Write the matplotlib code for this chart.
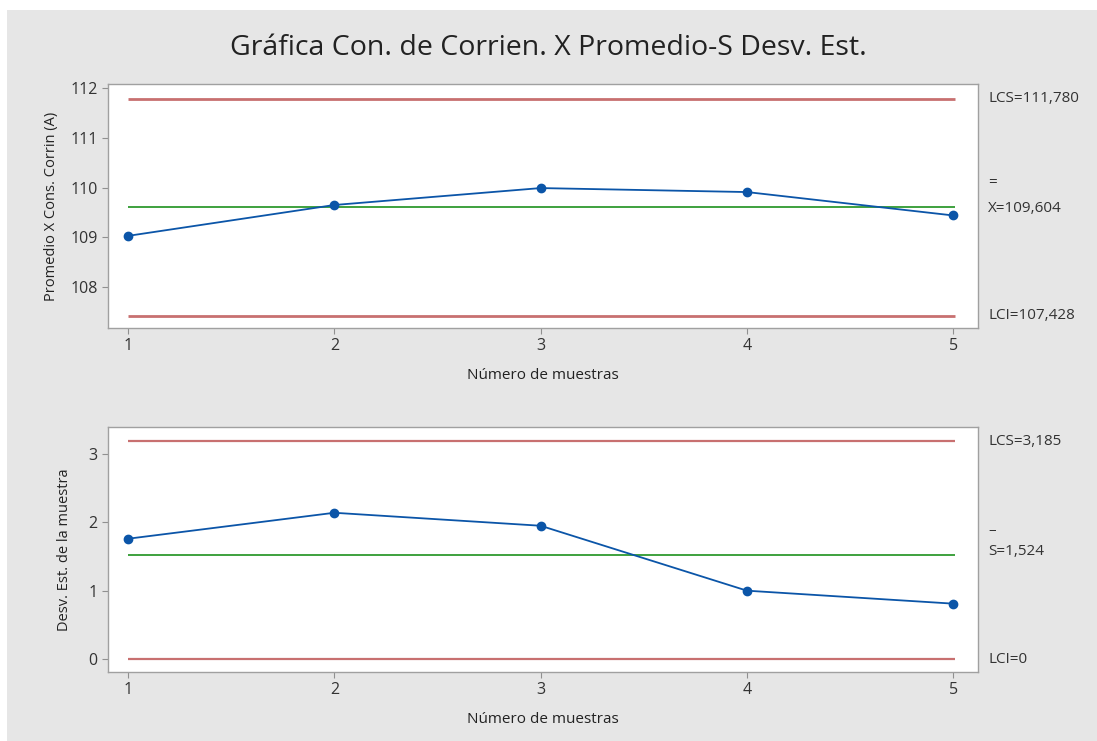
import matplotlib
matplotlib.use("Agg")
import matplotlib.pyplot as plt
from matplotlib.patches import Rectangle

plt.rcParams['font.family'] = ['Open Sans', 'DejaVu Sans']

samples = [1, 2, 3, 4, 5]
xbar = [109.03, 109.65, 109.99, 109.91, 109.44]
sdev = [1.76, 2.14, 1.95, 1.00, 0.81]
xbar_lcs, xbar_center, xbar_lci = 111.780, 109.604, 107.428
s_lcs, s_center, s_lci = 3.185, 1.524, 0.0
title = "Gráfica Con. de Corrien. X Promedio-S Desv. Est."
xlabel = "Número de muestras"
ylabel_top = "Promedio X Cons. Corrin (A)"
ylabel_bot = "Desv. Est. de la muestra"

W, H = 1097, 741
fig = plt.figure(figsize=(W/100, H/100), dpi=100)
fig.patch.set_facecolor('white')
fig.add_artist(Rectangle((7/W, 0), 1 - 7/W, 1 - 10/H, transform=fig.transFigure,
                         facecolor='#e6e6e6', edgecolor='none', zorder=-10))

red = '#c87070'
green = '#2f9a2f'
blue = '#0b55a8'

def ax_at(l, t, r, b):
    return fig.add_axes([l/W, 1 - b/H, (r - l)/W, (b - t)/H])

ax1 = ax_at(108, 84, 978, 328)
ax2 = ax_at(108, 427, 978, 672)

for ax in (ax1, ax2):
    ax.set_facecolor('white')
    for s in ax.spines.values():
        s.set_color('#a0a0a0')
        s.set_linewidth(1.0)
    ax.tick_params(colors='#333333', labelsize=11.5, length=4, width=0.8, color='#909090')
    ax.set_xlim(0.903, 5.12)
    ax.set_xticks(samples)
    ax.set_xlabel(xlabel, fontsize=11, color='#222222', labelpad=10)

# Top chart
ax1.hlines([xbar_lcs, xbar_lci], 1, 5.01, color=red, lw=2.0)
ax1.hlines(xbar_center, 1, 5.01, color=green, lw=1.3)
ax1.plot(samples, xbar, color=blue, lw=1.3, marker='o', ms=6, zorder=5)
ax1.set_ylim(107.18, 112.08)
ax1.set_yticks([108, 109, 110, 111, 112])
ax1.set_ylabel(ylabel_top, fontsize=10.5, color='#222222', labelpad=8)

# Bottom chart
ax2.hlines([s_lcs, s_lci], 1, 5.01, color=red, lw=1.6)
ax2.hlines(s_center, 1, 5.01, color=green, lw=1.3)
ax2.plot(samples, sdev, color=blue, lw=1.3, marker='o', ms=6, zorder=5)
ax2.set_ylim(-0.19, 3.395)
ax2.set_yticks([0, 1, 2, 3])
ax2.set_ylabel(ylabel_bot, fontsize=10.5, color='#222222', labelpad=12)

tc = '#333333'
fs = 11
tr1 = ax1.get_yaxis_transform()
ax1.text(1.012, xbar_lcs, f"LCS={xbar_lcs:.3f}".replace('.', ','), transform=tr1, va='center', fontsize=fs, color=tc)
ax1.text(1.012, xbar_center + 0.49, "=", transform=tr1, va='center', fontsize=fs, color=tc)
ax1.text(1.012, xbar_center - 0.02, f"X={xbar_center:.3f}".replace('.', ','), transform=tr1, va='center', fontsize=fs, color=tc)
ax1.text(1.012, xbar_lci, f"LCI={xbar_lci:.3f}".replace('.', ','), transform=tr1, va='center', fontsize=fs, color=tc)

tr2 = ax2.get_yaxis_transform()
ax2.text(1.012, s_lcs, f"LCS={s_lcs:.3f}".replace('.', ','), transform=tr2, va='center', fontsize=fs, color=tc)
ax2.text(1.012, s_center + 0.36, "–", transform=tr2, va='center', fontsize=fs, color=tc)
ax2.text(1.012, s_center + 0.05, f"S={s_center:.3f}".replace('.', ','), transform=tr2, va='center', fontsize=fs, color=tc)
ax2.text(1.012, s_lci, "LCI=0", transform=tr2, va='center', fontsize=fs, color=tc)

fig.text(0.5, 1 - 48/H, title, ha='center', va='center', fontsize=20.5, color='#222222')

fig.savefig('out.png', dpi=100, facecolor=fig.get_facecolor())
